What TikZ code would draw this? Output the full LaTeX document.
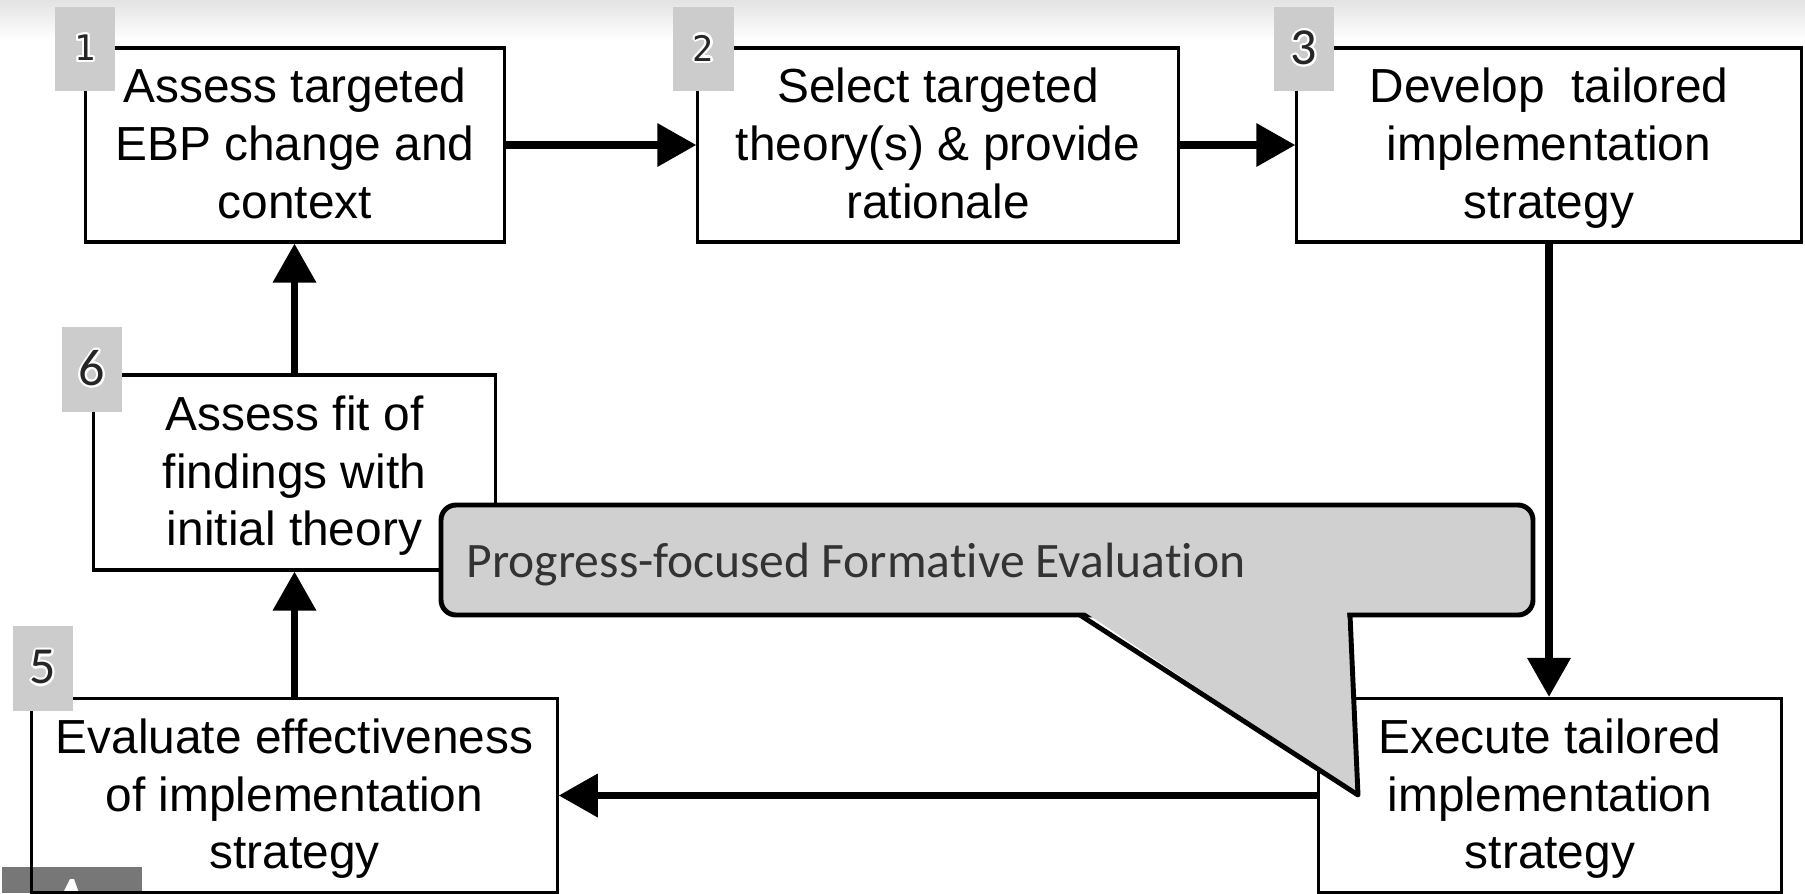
\documentclass[tikz,border=0pt]{standalone}
\usepackage{fontspec}
\setmainfont{Liberation Sans}
\newfontfamily\calloutfont[Ligatures=NoCommon]{Carlito}
\newfontfamily\badgemono{DejaVu Sans Mono}
\usepackage[copies]{contour}
\contourlength{0.6pt}
\usetikzlibrary{arrows.meta}
\definecolor{cBadge}{HTML}{CCCCCC}
\definecolor{cCallout}{HTML}{D0D0D0}
\definecolor{cText}{HTML}{333333}
\definecolor{cDigit}{HTML}{262626}
\definecolor{cIcon}{HTML}{777777}
\tikzset{
  flow/.style   ={-{Triangle[length=3.9mm, width=4.2mm]}, line width=2pt},
  stepbox/.style={draw, line width=0.9pt, align=center, inner sep=0pt,
                  minimum height=1.94cm, font=\fontsize{13.6}{16.4}\selectfont,
                  execute at begin node=\rule{0pt}{46.6pt}, execute at end node=\strut},
  badge/.style  ={fill=cBadge, inner sep=0pt, minimum width=6mm, minimum height=8.4mm, text=cDigit},
  bignum/.style ={font=\calloutfont\fontsize{14.8}{15}\selectfont},
  smallnum/.style={font=\badgemono\fontsize{10}{10}\selectfont},
}

\begin{document}
\begin{tikzpicture}[x=0.01cm, y=-0.01cm]
  \useasboundingbox (0,0) rectangle (1805,893);
  \shade[top color=black!11, bottom color=white] (0,0) rectangle (1805,40);
  % corner icon
  \fill[cIcon] (2,867) rectangle (142,893);
  \fill[white] (63,893) -- (70,879) -- (74,879) -- (79,893) -- cycle;

  % steps
  \node[stepbox, minimum width=4.18cm] (assess)  at (295,145)   {Assess targeted\\EBP change and\\context};
  \node[stepbox, minimum width=4.80cm] (select)  at (938,145)   {Select targeted\\theory(s) \& provide\\rationale};
  \node[stepbox, minimum width=5.04cm] (develop) at (1549,145)  {Develop\ \ tailored\\implementation\\strategy};
  \node[stepbox, minimum width=4.62cm] (execute) at (1550,795.5) {Execute tailored\\implementation\\strategy};
  \node[stepbox, minimum width=5.25cm] (evaluate) at (294.5,795.5) {Evaluate effectiveness\\of implementation\\strategy};
  \node[stepbox, minimum width=4.01cm, minimum height=1.95cm] (fit) at (294.5,472.5) {Assess fit of\\findings with\\initial theory};

  % numbers
  \node[badge, smallnum] (b1) at (85,49)     {\contour{white}{1}};
  \node[badge, smallnum] (b2) at (703.5,49)  {\contour{white}{2}};
  \node[badge, bignum]   (b3) at (1304,49)   {\contour{white}{3}};
  \node[badge, bignum]   (b6) at (92,369.5)  {\contour{white}{6}};
  \node[badge, bignum]   (b5) at (43,668.5)  {\contour{white}{5}};

  % cycle
  \draw[flow] (assess) -- (select);
  \draw[flow] (select) -- (develop);
  \draw[flow] (develop.south) -- (develop.south |- execute.north);
  \draw[flow] (execute) -- (evaluate);
  \draw[flow] (evaluate) -- (fit);
  \draw[flow] (fit.north) -- (fit.north |- assess.south);

  % callout
  \draw[fill=cCallout, line width=1.4pt, rounded corners=1.5mm] (441,505) rectangle (1533,615);
  \fill[cCallout] (1083,611) -- (1358,795) -- (1347,611) -- cycle;
  \draw[line width=1.4pt, line join=round] (1080,615) -- (1358,795) -- (1350,615);
  \node[font=\calloutfont\fontsize{14.1}{16}\selectfont, text=cText, anchor=west, inner sep=0pt]
    (pfe) at (466,565) {Progress-focused Formative Evaluation};
\end{tikzpicture}
\end{document}
